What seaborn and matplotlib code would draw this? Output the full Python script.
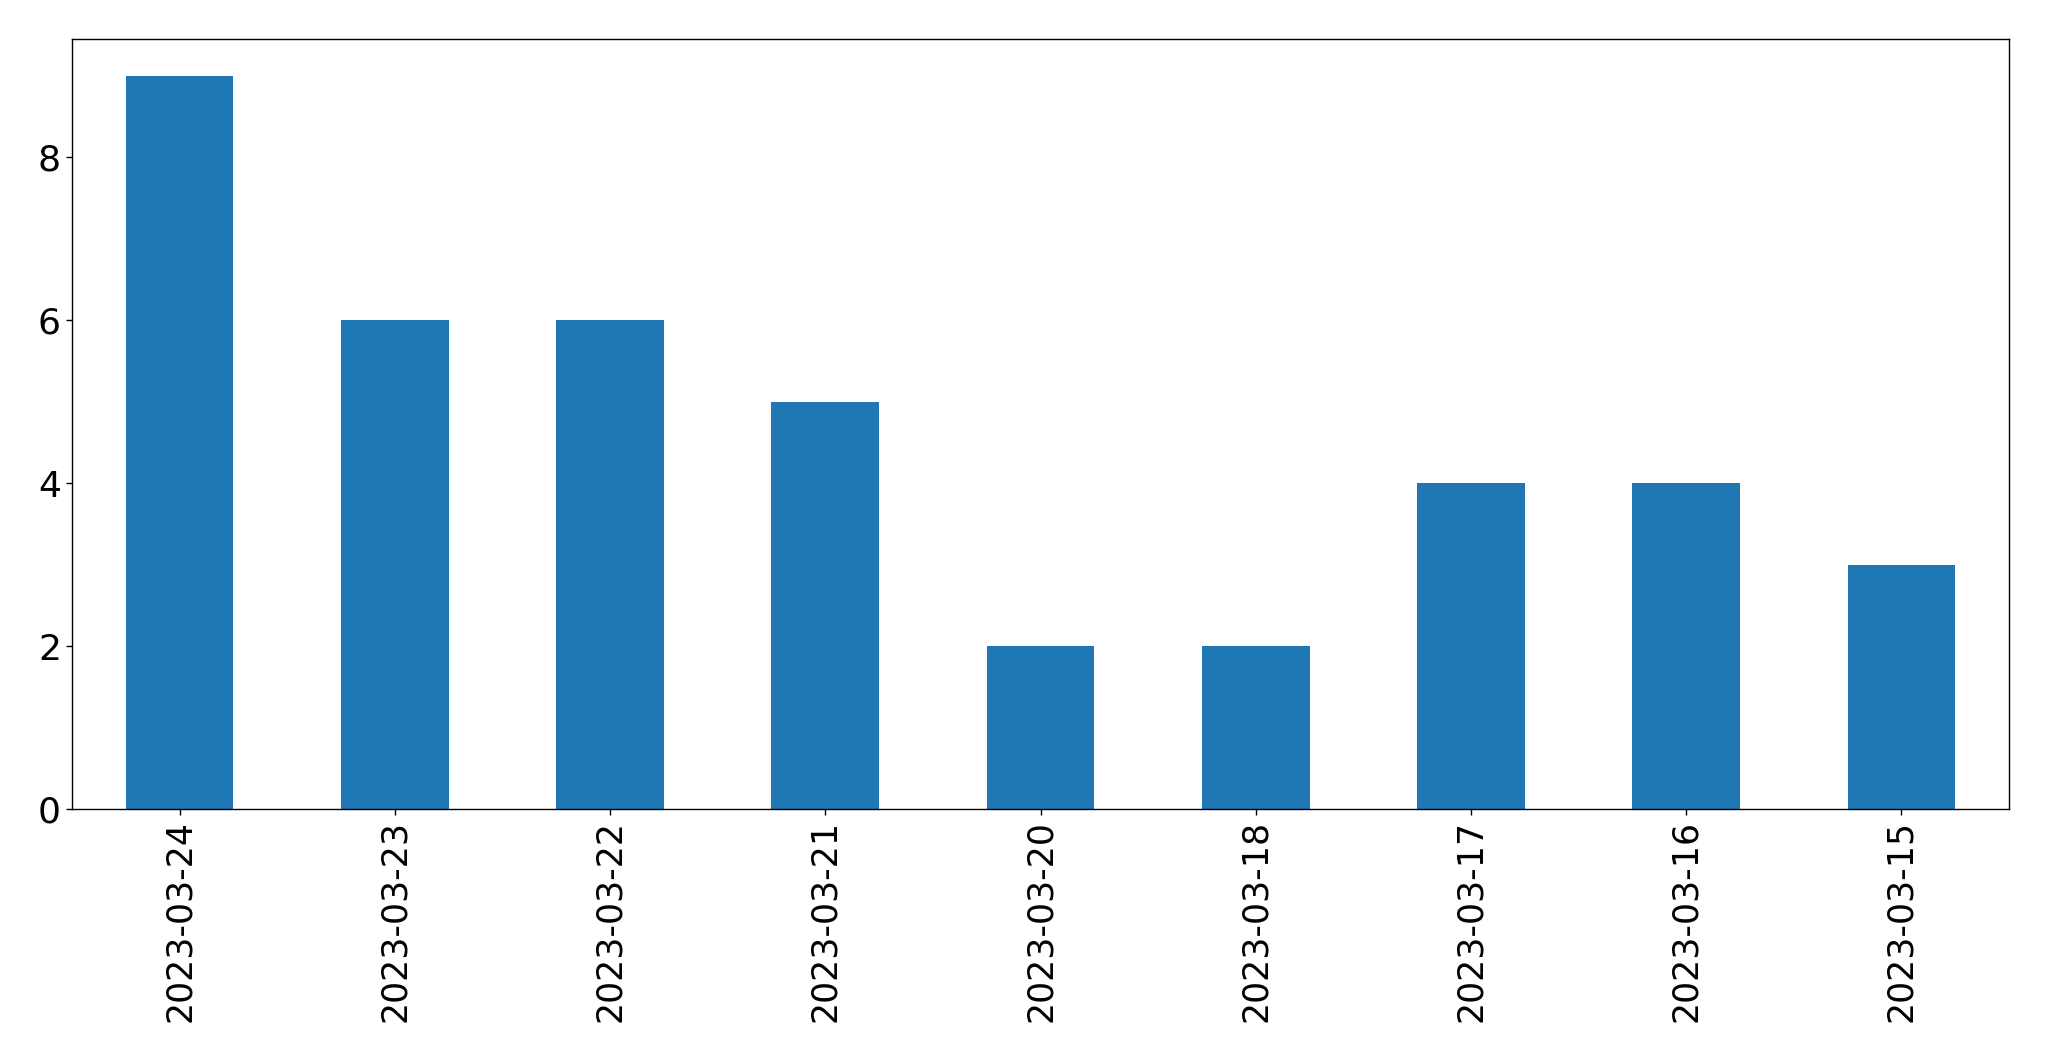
import matplotlib
matplotlib.use("Agg")
import matplotlib.pyplot as plt
import seaborn as sns
import pandas as pd

dates = ["2023-03-24", "2023-03-23", "2023-03-22", "2023-03-21", "2023-03-20",
         "2023-03-18", "2023-03-17", "2023-03-16", "2023-03-15"]
counts = [9, 6, 6, 5, 2, 2, 4, 4, 3]

sns.set_style("ticks")
plt.rcParams['font.family'] = ['DejaVu Sans']
plt.rcParams['text.color'] = 'black'
plt.rcParams['xtick.color'] = 'black'
plt.rcParams['ytick.color'] = 'black'

df = pd.DataFrame({"date": dates, "count": counts})

fig = plt.figure(figsize=(20.49, 10.61), dpi=100)
ax = fig.add_axes([72/2049, 1 - 809/1061, (2009 - 72)/2049, (809 - 39)/1061])
sns.barplot(data=df, x="date", y="count", order=dates, color="#1f77b4",
            saturation=1, width=0.5, ax=ax, linewidth=0)
ax.set_xlim(-0.5, len(dates) - 0.5)
ax.set_ylim(0, max(counts) * 1.05)
ax.set_yticks([0, 2, 4, 6, 8])
ax.set_xlabel("")
ax.set_ylabel("")
ax.tick_params(axis="x", labelsize=25, length=4.5, width=1,
               color="black", labelcolor="black")
ax.tick_params(axis="y", labelsize=26, length=4.5, width=1,
               color="black", labelcolor="black")
for lbl in ax.get_xticklabels():
    lbl.set_rotation(90)
for s in ax.spines.values():
    s.set_visible(True)
    s.set_color("black")
    s.set_linewidth(1)
fig.savefig("out.png", dpi=100)
